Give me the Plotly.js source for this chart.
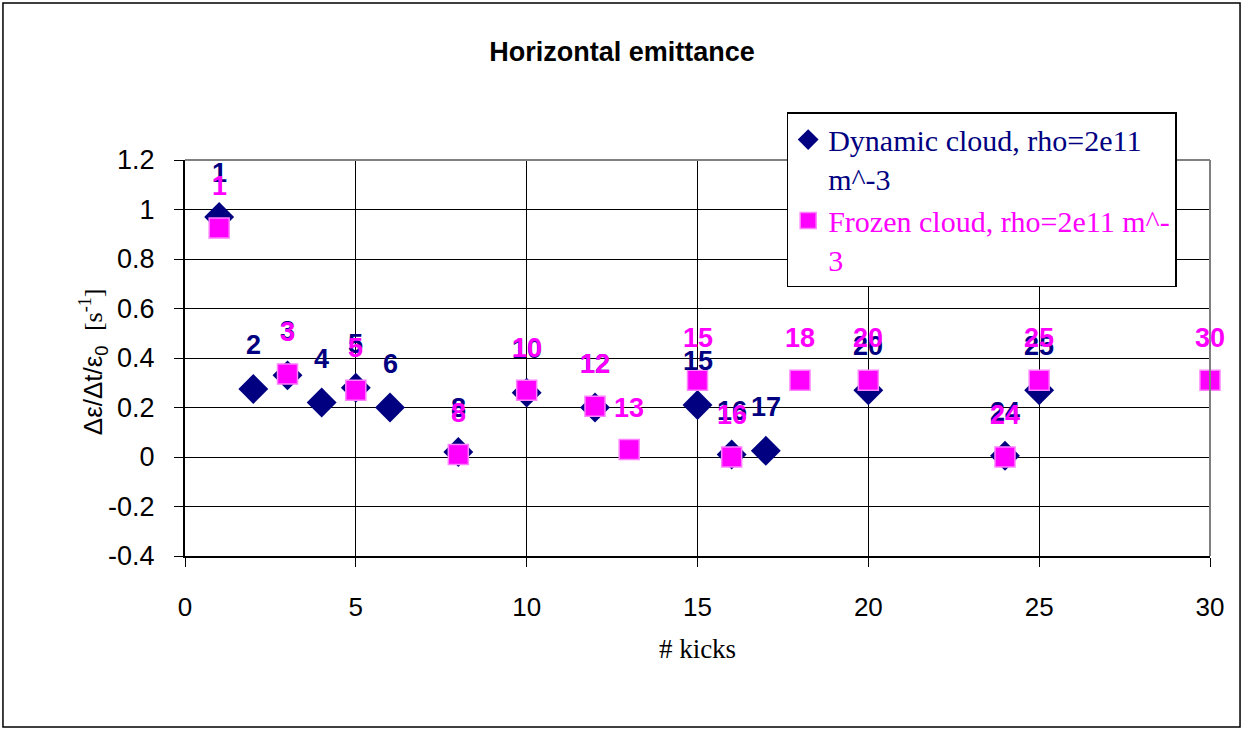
<!DOCTYPE html>
<html>
<head>
<meta charset="utf-8">
<script src="https://cdn.plot.ly/plotly-3.0.1.min.js"></script>
<style>
html,body{margin:0;padding:0;background:#fff;}
#chart{width:1244px;height:729px;}
</style>
</head>
<body>
<div id="chart"></div>
<script>
// Data
const dynamicKicks = [1, 2, 3, 4, 5, 6, 8, 10, 12, 15, 16, 17, 20, 24, 25];
const dynamicValues = [0.97, 0.275, 0.33, 0.22, 0.28, 0.20, 0.02, 0.26, 0.20, 0.21, 0.01, 0.025, 0.27, 0.005, 0.27];
const frozenKicks = [1, 3, 5, 8, 10, 12, 13, 15, 16, 18, 20, 24, 25, 30];
const frozenValues = [0.925, 0.335, 0.27, 0.01, 0.27, 0.205, 0.03, 0.31, 0.0, 0.31, 0.31, 0.0, 0.31, 0.31];
const dynamicName = 'Dynamic cloud, rho=2e11<br>m^-3';
const frozenName = 'Frozen cloud, rho=2e11 m^-<br>3';
const yTickVals = [-0.4, -0.2, 0, 0.2, 0.4, 0.6, 0.8, 1, 1.2];
const yTickText = ['-0.4', '-0.2', '0', '0.2', '0.4', '0.6', '0.8', '1', '1.2'];
const xTickVals = [0, 5, 10, 15, 20, 25, 30];
const xTickText = ['0', '5', '10', '15', '20', '25', '30'];

const navy = '#000080';
const magenta = '#FF00FF';

const traces = [
  {
    x: dynamicKicks, y: dynamicValues, type: 'scatter', mode: 'markers',
    name: dynamicName,
    marker: {symbol: 'diamond', size: 23, color: navy, line: {width: 0}},
    cliponaxis: false
  },
  {
    x: frozenKicks, y: frozenValues, type: 'scatter', mode: 'markers',
    name: frozenName,
    marker: {symbol: 'square', size: 20, color: magenta, line: {width: 1.5, color: '#ff7fff'}},
    cliponaxis: false
  }
];

const annotations = [];
dynamicKicks.forEach((k, i) => {
  annotations.push({x: k, y: dynamicValues[i], xref: 'x', yref: 'y', text: '<b>' + k + '</b>',
    showarrow: false, yshift: 44, font: {family: 'Liberation Sans, Arial', size: 27, color: navy}});
});
frozenKicks.forEach((k, i) => {
  annotations.push({x: k, y: frozenValues[i], xref: 'x', yref: 'y', text: '<b>' + k + '</b>',
    showarrow: false, yshift: 42, font: {family: 'Liberation Sans, Arial', size: 27, color: magenta}});
});
annotations.push({
  xref: 'paper', yref: 'paper', x: -0.109, y: 0.49, textangle: -90, showarrow: false,
  text: '<span style="font-family:Liberation Sans">Δε/Δt/ε<sub>0</sub></span>  <span style="font-family:Liberation Serif">[s<sup>-1</sup>]</span>',
  font: {family: 'Liberation Sans, Arial', size: 26, color: '#000'}
});

const layout = {
  width: 1244, height: 729,
  margin: {l: 185, r: 34, t: 160, b: 173},
  paper_bgcolor: '#fff', plot_bgcolor: '#fff',
  showlegend: true,
  title: {
    text: '<b>Horizontal emittance</b>',
    font: {family: 'Liberation Sans, Arial', size: 27, color: '#000'},
    xref: 'container', yref: 'container', x: 0.5, y: 0.929, xanchor: 'center', yanchor: 'middle'
  },
  xaxis: {
    range: [0, 30], tickmode: 'array', tickvals: xTickVals, ticktext: xTickText,
    showgrid: true, gridcolor: '#000', gridwidth: 1, zeroline: false,
    showline: true, linecolor: '#000', linewidth: 2,
    ticks: 'outside', ticklen: 9, tickcolor: '#000', tickwidth: 1,
    ticklabelstandoff: 18,
    tickfont: {family: 'Liberation Sans, Arial', size: 26, color: '#000'},
    title: {text: '# kicks', font: {family: 'Liberation Serif, Times New Roman', size: 27, color: '#000'}, standoff: 18}
  },
  yaxis: {
    range: [-0.4, 1.2], tickmode: 'array', tickvals: yTickVals, ticktext: yTickText,
    showgrid: true, gridcolor: '#000', gridwidth: 1, zeroline: false,
    showline: true, linecolor: '#000', linewidth: 2,
    ticks: 'outside', ticklen: 9, tickcolor: '#000', tickwidth: 1,
    ticklabelstandoff: 14,
    tickfont: {family: 'Liberation Sans, Arial', size: 27, color: '#000'}
  },
  legend: {
    x: 0.587, y: 1.121, xanchor: 'left', yanchor: 'top',
    bgcolor: '#fff', bordercolor: '#000', borderwidth: 1.5,
    font: {family: 'Liberation Serif, Times New Roman', size: 30, color: '#000'},
    valign: 'top',
    tracegroupgap: 0
  },
  annotations: annotations,
  shapes: [
    {type: 'line', xref: 'paper', yref: 'paper', x0: 0, x1: 1, y0: 1, y1: 1, line: {color: '#808080', width: 2}},
    {type: 'line', xref: 'paper', yref: 'paper', x0: 1, x1: 1, y0: 0, y1: 1, line: {color: '#808080', width: 2}},
    {type: 'rect', xref: 'paper', yref: 'paper', x0: -0.1776, x1: 1.0293, y0: -0.4318, y1: 1.3965,
     line: {color: '#000', width: 1.5}, layer: 'below'}
  ]
};

Plotly.newPlot('chart', traces, layout, {displayModeBar: false, staticPlot: true}).then(() => {
  // color legend text per series
  const texts = document.querySelectorAll('.legendtext');
  if (texts[0]) texts[0].style.fill = navy;
  if (texts[1]) texts[1].style.fill = magenta;
});
</script>
</body>
</html>
